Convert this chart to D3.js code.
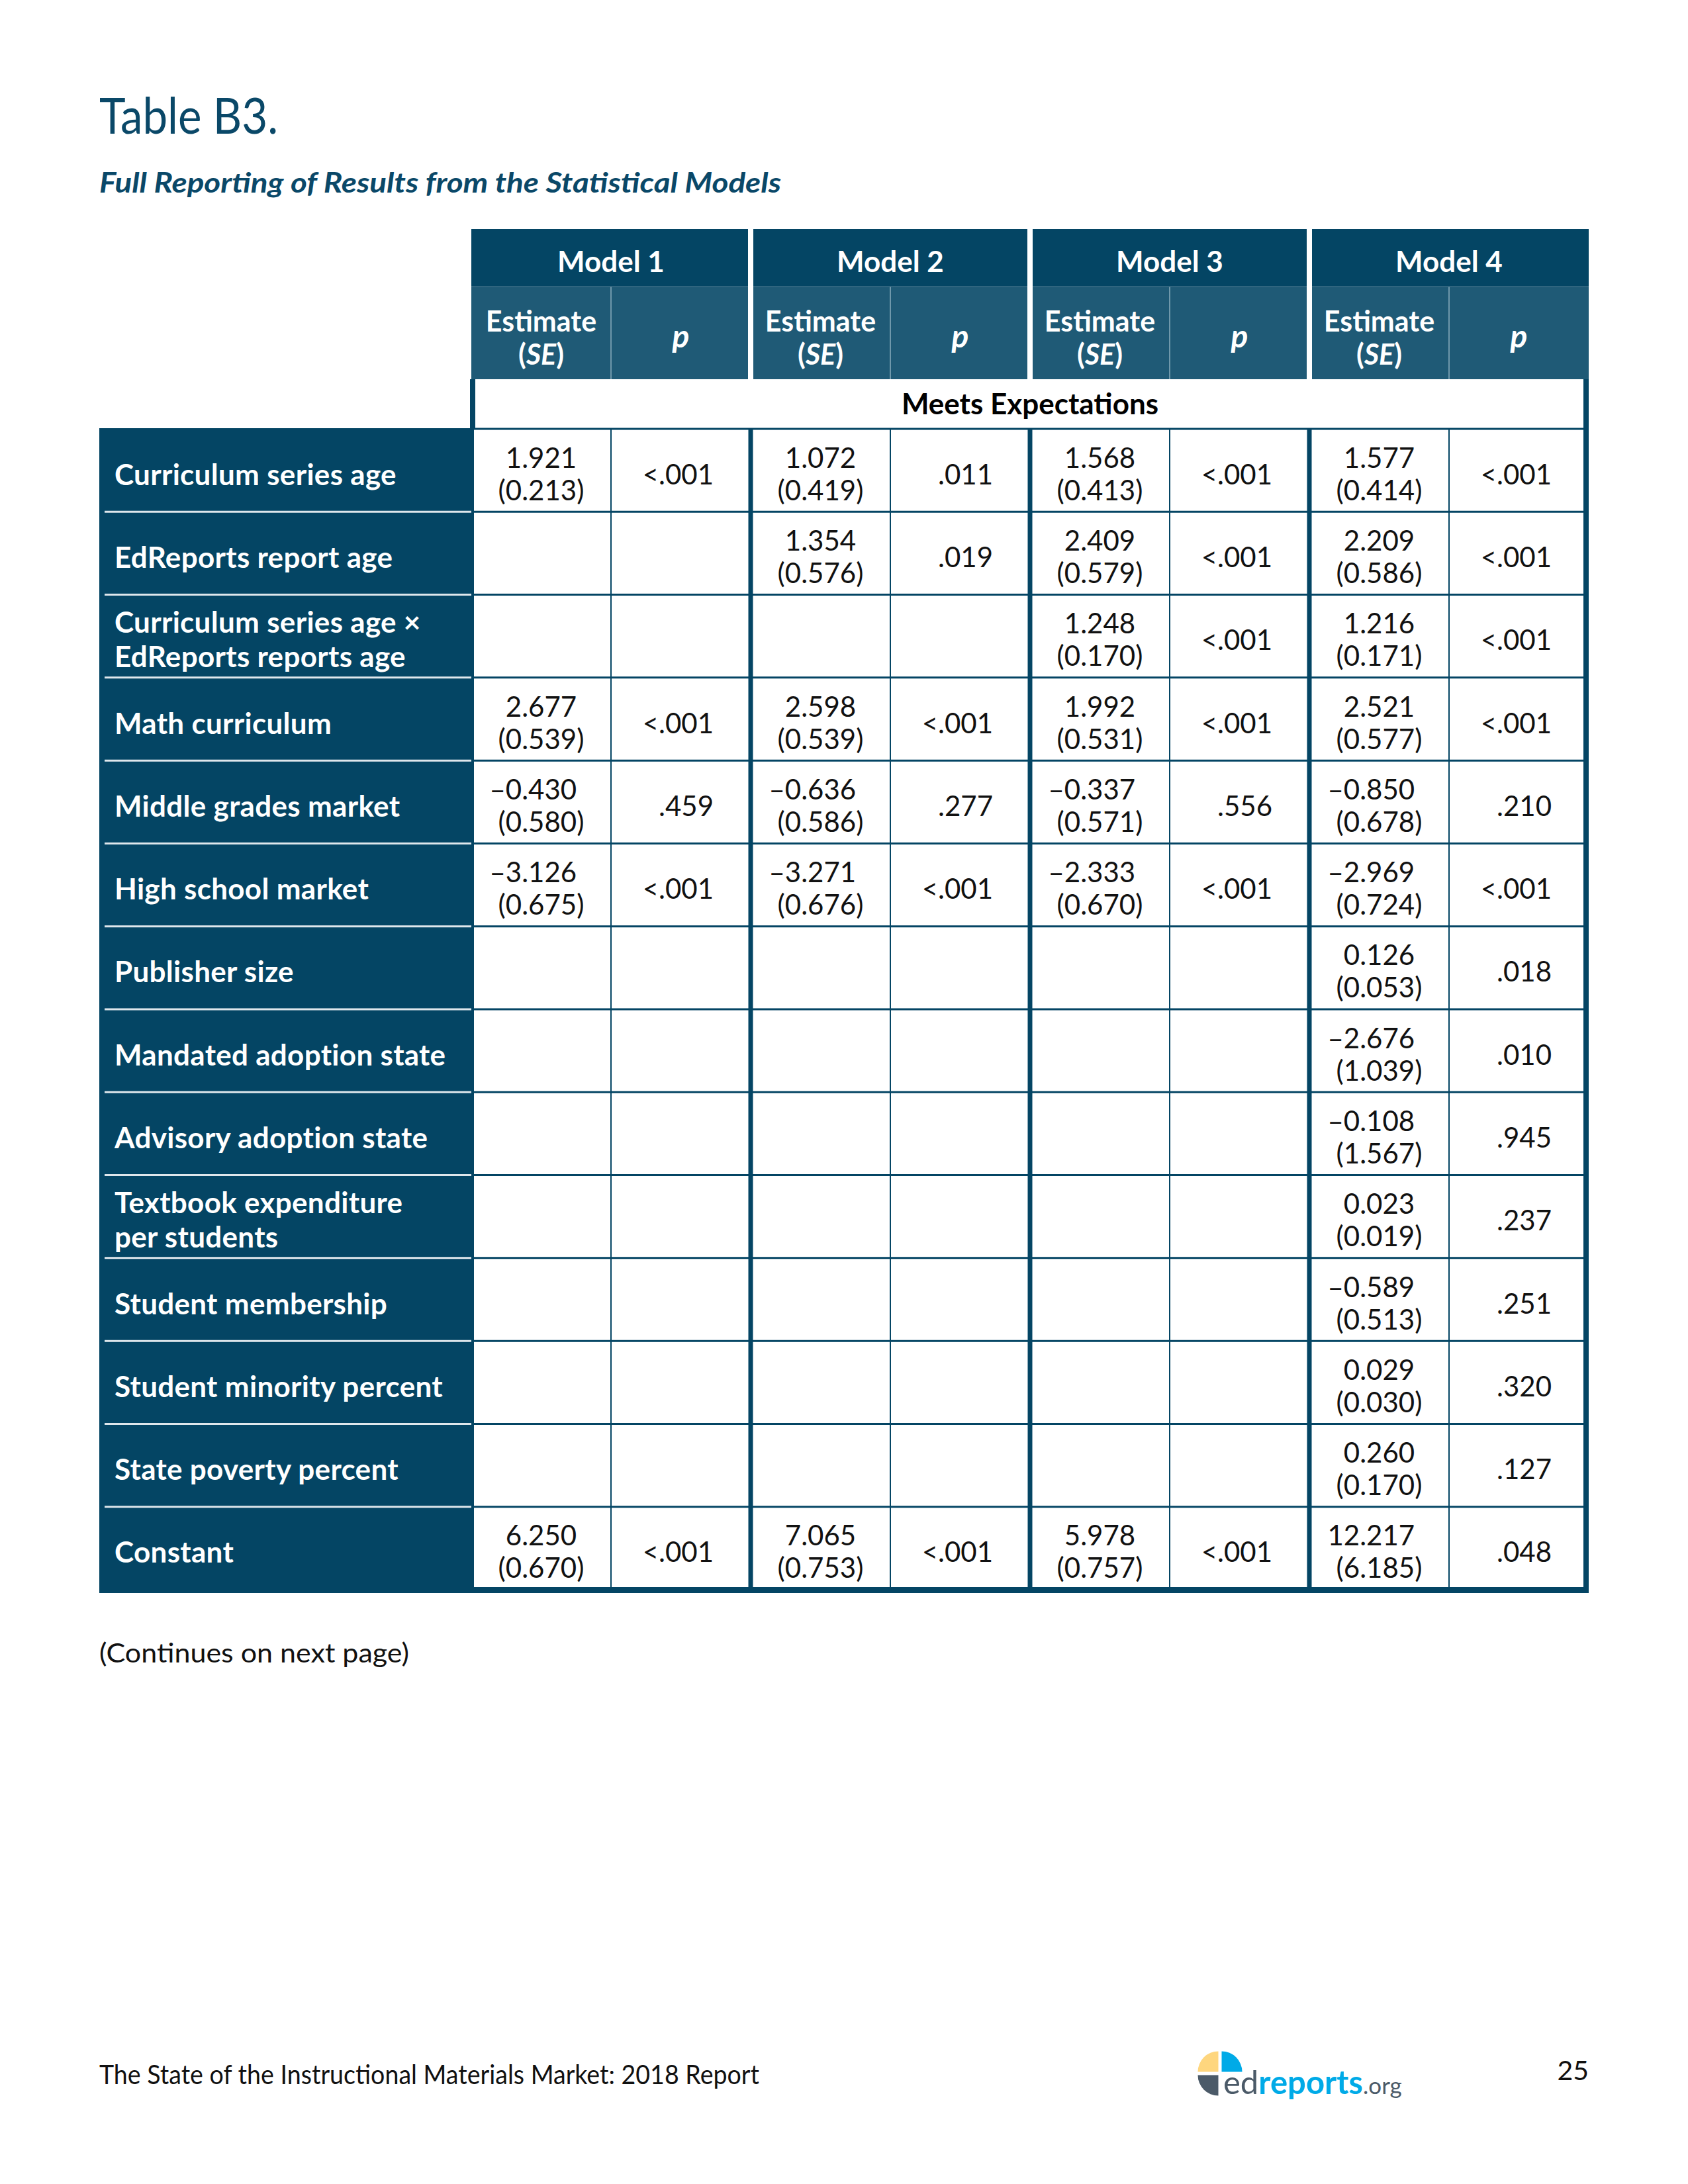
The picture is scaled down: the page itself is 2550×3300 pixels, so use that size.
<!DOCTYPE html>
<html>
<head>
<meta charset="utf-8">
<script src="https://cdn.jsdelivr.net/npm/d3@7"></script>
<style>
  html, body { margin: 0; padding: 0; background: #fff; }
  svg { display: block; }
  text { font-family: Lato, "Noto Sans", sans-serif; }
</style>
</head>
<body>
<svg id="page" width="2550" height="3300"></svg>
<script>
const models = ['Model 1', 'Model 2', 'Model 3', 'Model 4'];

const rowLabels = [
    'Curriculum series age',
    'EdReports report age',
    'Curriculum series age ×\nEdReports reports age',
    'Math curriculum',
    'Middle grades market',
    'High school market',
    'Publisher size',
    'Mandated adoption state',
    'Advisory adoption state',
    'Textbook expenditure\nper students',
    'Student membership',
    'Student minority percent',
    'State poverty percent',
    'Constant'
];

const model1Est = ['1.921', null, null, '2.677', '–0.430', '–3.126', null, null, null, null, null, null, null, '6.250'];
const model1SE  = ['0.213', null, null, '0.539', '0.580', '0.675', null, null, null, null, null, null, null, '0.670'];
const model1P   = ['<.001', null, null, '<.001', '.459', '<.001', null, null, null, null, null, null, null, '<.001'];

const model2Est = ['1.072', '1.354', null, '2.598', '–0.636', '–3.271', null, null, null, null, null, null, null, '7.065'];
const model2SE  = ['0.419', '0.576', null, '0.539', '0.586', '0.676', null, null, null, null, null, null, null, '0.753'];
const model2P   = ['.011', '.019', null, '<.001', '.277', '<.001', null, null, null, null, null, null, null, '<.001'];

const model3Est = ['1.568', '2.409', '1.248', '1.992', '–0.337', '–2.333', null, null, null, null, null, null, null, '5.978'];
const model3SE  = ['0.413', '0.579', '0.170', '0.531', '0.571', '0.670', null, null, null, null, null, null, null, '0.757'];
const model3P   = ['<.001', '<.001', '<.001', '<.001', '.556', '<.001', null, null, null, null, null, null, null, '<.001'];

const model4Est = ['1.577', '2.209', '1.216', '2.521', '–0.850', '–2.969', '0.126', '–2.676', '–0.108', '0.023', '–0.589', '0.029', '0.260', '12.217'];
const model4SE  = ['0.414', '0.586', '0.171', '0.577', '0.678', '0.724', '0.053', '1.039', '1.567', '0.019', '0.513', '0.030', '0.170', '6.185'];
const model4P   = ['<.001', '<.001', '<.001', '<.001', '.210', '<.001', '.018', '.010', '.945', '.237', '.251', '.320', '.127', '.048'];

const modelEst = [model1Est, model2Est, model3Est, model4Est];
const modelSE = [model1SE, model2SE, model3SE, model4SE];
const modelP = [model1P, model2P, model3P, model4P];

// ---- colours ----
const dark = '#044564';
const mid = '#1f5a76';
const titleColor = '#0a4868';

const svg = d3.select('#page');

// ---- scales ----
const tableLeft = 150, labelRight = 712, tableRight = 2400;
const headerTop = 346, modelRowBottom = 433, subBottom = 573, bodyTop = 648, bodyBottom = 2402;

const x = d3.scaleBand().domain(models).range([labelRight, tableRight]);
const sub = d3.scaleBand().domain(['est', 'p']).range([0, x.bandwidth()]);
const y = d3.scaleBand().domain(rowLabels).range([bodyTop, bodyBottom]);

// ---- title ----
svg.append('text')
    .attr('x', 150).attr('y', 202)
    .attr('fill', titleColor)
    .attr('textLength', 270).attr('lengthAdjust', 'spacingAndGlyphs')
    .style('font-size', '76px')
    .text('Table B3.');

svg.append('text')
    .attr('x', 150).attr('y', 291)
    .attr('fill', titleColor)
    .attr('textLength', 1030).attr('lengthAdjust', 'spacingAndGlyphs')
    .style('font-size', '42px').style('font-weight', 700).style('font-style', 'italic')
    .text('Full Reporting of Results from the Statistical Models');

// ---- label column ----
svg.append('rect')
    .attr('x', tableLeft).attr('y', bodyTop - 1)
    .attr('width', labelRight + 4 - tableLeft).attr('height', bodyBottom + 4 - bodyTop + 1)
    .attr('fill', dark);

// ---- header ----
const last = models.length - 1;
const header = svg.selectAll('.model-head').data(models).enter().append('g').attr('class', 'model-head');

header.append('rect')
    .attr('x', (d, i) => x(d) + (i === 0 ? 0 : 4))
    .attr('y', headerTop)
    .attr('width', (d, i) => x.bandwidth() - (i === 0 ? 0 : 4) - (i === last ? 0 : 4))
    .attr('height', modelRowBottom - headerTop)
    .attr('fill', dark);

header.append('rect')
    .attr('x', (d, i) => x(d) + (i === 0 ? 0 : 4))
    .attr('y', modelRowBottom)
    .attr('width', (d, i) => x.bandwidth() - (i === 0 ? 0 : 4) - (i === last ? 0 : 4))
    .attr('height', subBottom - modelRowBottom)
    .attr('fill', mid);

header.append('line')
    .attr('x1', d => x(d) + sub('p')).attr('x2', d => x(d) + sub('p'))
    .attr('y1', modelRowBottom).attr('y2', subBottom)
    .attr('stroke', '#6f98ab').attr('stroke-width', 2);

header.append('line')
    .attr('x1', (d, i) => x(d) + (i === 0 ? 0 : 4))
    .attr('x2', (d, i) => x(d) + x.bandwidth() - (i === last ? 0 : 4))
    .attr('y1', modelRowBottom).attr('y2', modelRowBottom)
    .attr('stroke', '#3d6e86').attr('stroke-width', 1.5);

header.append('text')
    .attr('x', d => x(d) + x.bandwidth() / 2)
    .attr('y', modelRowBottom - 22)
    .attr('text-anchor', 'middle')
    .attr('fill', '#fff')
    .style('font-size', '44px').style('font-weight', 700)
    .text(d => d);

header.append('text')
    .attr('x', d => x(d) + sub('est') + sub.bandwidth() / 2)
    .attr('y', 501)
    .attr('text-anchor', 'middle')
    .attr('fill', '#fff')
    .style('font-size', '43px').style('font-weight', 700)
    .text('Estimate');

const seHead = header.append('text')
    .attr('x', d => x(d) + sub('est') + sub.bandwidth() / 2)
    .attr('y', 551)
    .attr('text-anchor', 'middle')
    .attr('fill', '#fff')
    .style('font-size', '43px').style('font-weight', 700);
seHead.append('tspan').text('(');
seHead.append('tspan').style('font-style', 'italic').text('SE');
seHead.append('tspan').text(')');

header.append('text')
    .attr('x', d => x(d) + sub('p') + sub.bandwidth() / 2)
    .attr('y', 525)
    .attr('text-anchor', 'middle')
    .attr('fill', '#fff')
    .style('font-size', '48px').style('font-weight', 700).style('font-style', 'italic')
    .text('p');

// ---- "Meets Expectations" band ----
svg.append('text')
    .attr('x', (labelRight + tableRight) / 2)
    .attr('y', 626)
    .attr('text-anchor', 'middle')
    .attr('fill', '#000')
    .style('font-size', '44px').style('font-weight', 700)
    .text('Meets Expectations');

// ---- grid ----
const grid = svg.append('g');

// row separators
grid.selectAll('.row-line-data').data(rowLabels.slice(1)).enter().append('line')
    .attr('x1', labelRight).attr('x2', tableRight)
    .attr('y1', d => y(d)).attr('y2', d => y(d))
    .attr('stroke', dark).attr('stroke-width', 3);

grid.selectAll('.row-line-label').data(rowLabels.slice(1)).enter().append('line')
    .attr('x1', tableLeft + 8).attr('x2', labelRight)
    .attr('y1', d => y(d)).attr('y2', d => y(d))
    .attr('stroke', '#dfe7ec').attr('stroke-width', 3);

// top line of body
grid.append('line')
    .attr('x1', labelRight).attr('x2', tableRight)
    .attr('y1', bodyTop).attr('y2', bodyTop)
    .attr('stroke', dark).attr('stroke-width', 3);

// thin est | p separators
grid.selectAll('.sub-line').data(models).enter().append('line')
    .attr('x1', d => x(d) + sub('p')).attr('x2', d => x(d) + sub('p'))
    .attr('y1', bodyTop).attr('y2', bodyBottom)
    .attr('stroke', dark).attr('stroke-width', 2);

// thick model separators
grid.selectAll('.model-line').data(models.slice(1)).enter().append('line')
    .attr('x1', d => x(d)).attr('x2', d => x(d))
    .attr('y1', bodyTop).attr('y2', bodyBottom)
    .attr('stroke', dark).attr('stroke-width', 7);

// outer borders
grid.append('line')
    .attr('x1', labelRight + 2).attr('x2', labelRight + 2)
    .attr('y1', subBottom).attr('y2', bodyTop)
    .attr('stroke', dark).attr('stroke-width', 8);
grid.append('line')
    .attr('x1', tableRight - 4).attr('x2', tableRight - 4)
    .attr('y1', subBottom).attr('y2', bodyBottom + 4)
    .attr('stroke', dark).attr('stroke-width', 8);
grid.append('rect')
    .attr('x', tableLeft).attr('y', bodyBottom - 4)
    .attr('width', tableRight - tableLeft).attr('height', 9)
    .attr('fill', dark);

// ---- row labels ----
const labels = svg.selectAll('.row-label').data(rowLabels).enter().append('text')
    .attr('class', 'row-label')
    .attr('fill', '#fff')
    .style('font-size', '44px').style('font-weight', 700)
    .style('letter-spacing', '0.3px');

labels.each(function (d) {
    const lines = d.split('\n');
    const c = y(d) + y.bandwidth() / 2;
    const t = d3.select(this);
    lines.forEach((line, i) => {
        const base = lines.length === 1 ? c + 22 : c - 5 + i * 52;
        t.append('tspan').attr('x', 173).attr('y', base).text(line);
    });
});

// ---- cell values ----
models.forEach((m, mi) => {
    const cells = rowLabels.map((r, ri) => ({
        row: r, est: modelEst[mi][ri], se: modelSE[mi][ri], p: modelP[mi][ri]
    })).filter(d => d.est !== null);

    const g = svg.append('g');
    const cx = x(m) + sub('est') + sub.bandwidth() / 2;

    const seText = g.selectAll('.se').data(cells).enter().append('text')
        .attr('x', cx)
        .attr('y', d => y(d.row) + y.bandwidth() / 2 + 45)
        .attr('text-anchor', 'middle')
        .attr('fill', '#111')
        .style('font-size', '42px')
        .text(d => `(${d.se})`);

    // estimate digits line up with the SE digits (minus hangs to the left)
    const parenW = (() => {
        const t = g.append('text').style('font-size', '42px').text(')');
        const w = t.node().getComputedTextLength();
        t.remove();
        return w;
    })();

    g.selectAll('.est').data(cells).enter().append('text')
        .attr('x', (d, i) => cx + seText.nodes()[i].getComputedTextLength() / 2 - parenW)
        .attr('y', d => y(d.row) + y.bandwidth() / 2 - 4)
        .attr('text-anchor', 'end')
        .attr('fill', '#111')
        .style('font-size', '42px')
        .text(d => d.est);

    g.selectAll('.pv').data(cells).enter().append('text')
        .attr('x', x(m) + x.bandwidth() - 56)
        .attr('y', d => y(d.row) + y.bandwidth() / 2 + 21)
        .attr('text-anchor', 'end')
        .attr('fill', '#111')
        .style('font-size', '42px')
        .text(d => d.p);
});

// ---- notes and footer ----
svg.append('text')
    .attr('x', 150).attr('y', 2512)
    .attr('fill', '#111')
    .attr('textLength', 468).attr('lengthAdjust', 'spacingAndGlyphs')
    .style('font-size', '41px')
    .text('(Continues on next page)');

svg.append('text')
    .attr('x', 150).attr('y', 3149)
    .attr('fill', '#111')
    .attr('textLength', 997).attr('lengthAdjust', 'spacingAndGlyphs')
    .style('font-size', '41px')
    .text('The State of the Instructional Materials Market: 2018 Report');

svg.append('text')
    .attr('x', 2400).attr('y', 3143)
    .attr('text-anchor', 'end')
    .attr('fill', '#111')
    .style('font-size', '41px')
    .text('25');

// edreports logo
const logo = svg.append('g').attr('transform', 'translate(1843,3133)');
const quad = d3.arc().innerRadius(0).outerRadius(31);
const quads = [
    { start: -Math.PI / 2, end: 0, color: '#fed67e', dx: -2.5, dy: -2.5 },
    { start: 0, end: Math.PI / 2, color: '#00aae7', dx: 2.5, dy: -2.5 },
    { start: Math.PI, end: Math.PI * 1.5, color: '#4b5a68', dx: -2.5, dy: 2.5 }
];
logo.selectAll('path').data(quads).enter().append('path')
    .attr('d', d => quad({ startAngle: d.start, endAngle: d.end }))
    .attr('transform', d => `translate(${d.dx},${d.dy})`)
    .attr('fill', d => d.color);

const logoText = svg.append('text')
    .attr('x', 1848).attr('y', 3164)
    .style('font-size', '49px');
logoText.append('tspan').attr('fill', '#4b5a68').text('ed');
logoText.append('tspan').attr('fill', '#00aae7').style('font-weight', 700).text('reports');
logoText.append('tspan').attr('fill', '#4b5a68').style('font-size', '35px').text('.org');
</script>
</body>
</html>
